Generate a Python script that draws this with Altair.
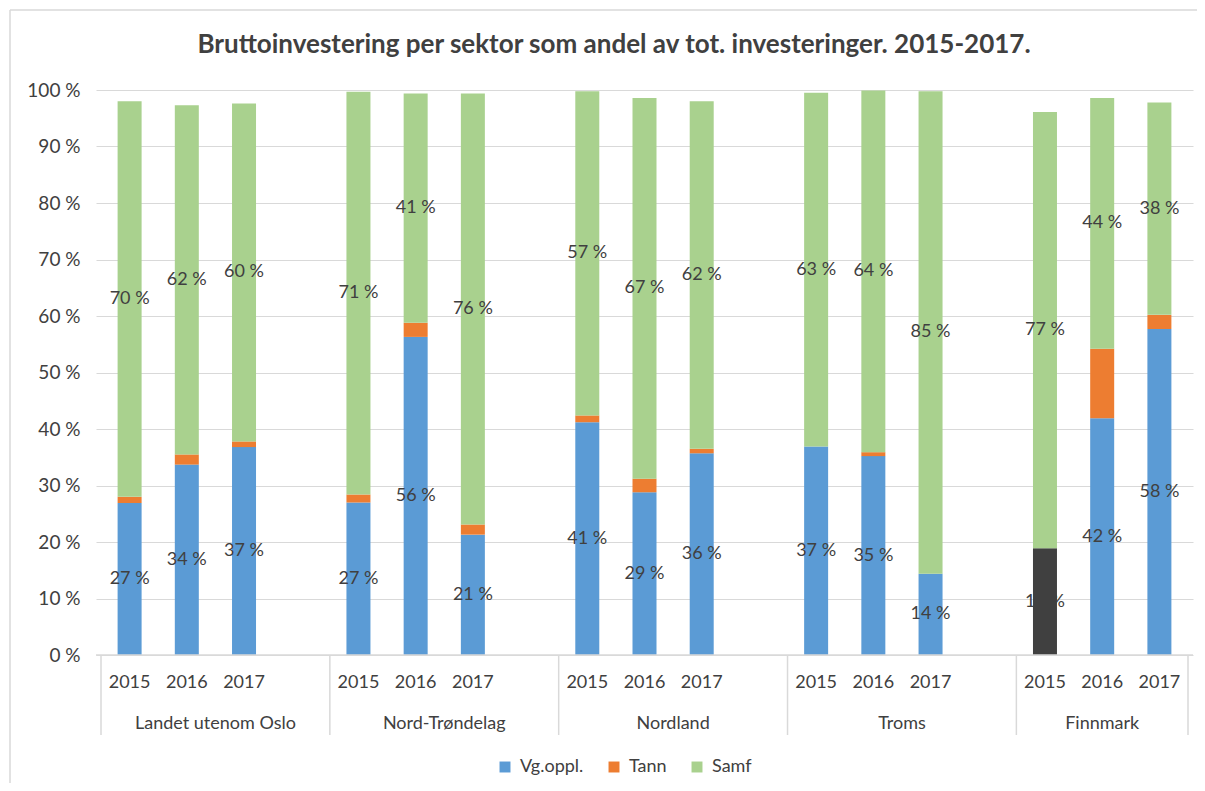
import altair as alt
import pandas as pd

regions = ["Landet utenom Oslo", "Nord-Trøndelag", "Nordland", "Troms", "Finnmark"]
years = ["2015", "2016", "2017"]
sectors = ["Vg.oppl.", "Tann", "Samf"]

# values in percent, order: region x year
vg_oppl = [26.9, 33.7, 36.8, 27.0, 56.3, 21.3, 41.2, 28.8, 35.7, 36.9, 35.2, 14.4, 18.9, 41.9, 57.7]
tann = [1.1, 1.8, 1.0, 1.4, 2.5, 1.8, 1.2, 2.4, 0.8, 0.0, 0.7, 0.0, 0.0, 12.3, 2.5]
samf = [70.0, 61.8, 59.8, 71.3, 40.6, 76.3, 57.4, 67.4, 61.5, 62.6, 64.0, 85.4, 77.2, 44.4, 37.6]

# category slots per region (Excel leaves an empty 4th category in all but the last group)
slots_per_region = [4, 4, 4, 4, 3]

TITLE = "Bruttoinvestering per sektor som andel av tot. investeringer. 2015-2017."
FONT = "Lato"
TXT = "#404040"
GRID = "#D9D9D9"
FS = 18

rows = []
starts = []
s = 0
for n in slots_per_region:
    starts.append(s)
    s += n
total_slots = s

for g, reg in enumerate(regions):
    for j, yr in enumerate(years):
        k = g * 3 + j
        for o, (sec, vals) in enumerate(zip(sectors, [vg_oppl, tann, samf])):
            rows.append({"region": reg, "year": yr, "sector": sec, "order": o,
                         "value": vals[k], "pos": starts[g] + j + 0.5})
df = pd.DataFrame(rows)

years_df = df[df["sector"] == "Vg.oppl."][["region", "year", "pos"]]
groups_df = pd.DataFrame({"region": regions,
                          "center": [st + n / 2 for st, n in zip(starts, slots_per_region)]})
sep_df = pd.DataFrame({"b": starts + [total_slots]})

W, H = 1097, 565
xscale = alt.Scale(domain=[0, total_slots], nice=False, zero=False)
one = pd.DataFrame({"f": [0]})

base = alt.Chart(df).transform_stack(
    stack="value", groupby=["region", "year"], as_=["y0", "y1"],
    sort=[alt.SortField("order", order="ascending")]
).transform_calculate(
    mid="(datum.y0 + datum.y1) / 2",
    label="format(datum.value, '.0f') + ' %'"
)

frame_top = alt.Chart(one).mark_rule(color=GRID, strokeWidth=1.5).encode(
    x=alt.value(-86), x2=alt.value(W + 200), y=alt.value(-80))
frame_left = alt.Chart(one).mark_rule(color=GRID, strokeWidth=1.5).encode(
    x=alt.value(-86), y=alt.value(-80), y2=alt.value(H + 300))

title = alt.Chart(one).mark_text(
    font=FONT, fontSize=26, fontWeight="bold", color=TXT
).encode(x=alt.value(518), y=alt.value(-45), text=alt.value(TITLE))

bars = base.mark_bar(size=24).encode(
    x=alt.X("pos:Q", scale=xscale, axis=None),
    y=alt.Y("y0:Q", scale=alt.Scale(domain=[0, 100], nice=False),
            axis=alt.Axis(values=list(range(0, 101, 10)), labelExpr="datum.value + ' %'",
                          title=None, domain=False, ticks=False, grid=True, gridColor=GRID,
                          labelFont=FONT, labelFontSize=19, labelColor=TXT, labelPadding=16)),
    y2="y1:Q",
    color=alt.condition(
        "datum.region == 'Finnmark' && datum.year == '2015' && datum.sector == 'Vg.oppl.'",
        alt.value("#404040"),
        alt.Color("sector:N",
                  scale=alt.Scale(domain=sectors, range=["#5B9BD5", "#ED7D31", "#A9D18E"]),
                  legend=alt.Legend(title=None, orient="none", direction="horizontal",
                                    legendX=400, legendY=668, symbolType="square",
                                    symbolSize=120, symbolStrokeWidth=0, labelFont=FONT,
                                    labelFontSize=FS, labelColor=TXT, columnPadding=21,
                                    labelOffset=6))
    ),
    order=alt.Order("order:Q")
)

labels = base.transform_filter("datum.sector != 'Tann'").mark_text(
    font=FONT, fontSize=FS, color=TXT
).encode(
    x=alt.X("pos:Q", scale=xscale),
    y=alt.Y("mid:Q"),
    text="label:N"
)

seps = alt.Chart(sep_df).mark_rule(color=GRID, strokeWidth=1.5).encode(
    x=alt.X("b:Q", scale=xscale), y=alt.value(H), y2=alt.value(H + 80)
)

zero_line = alt.Chart(pd.DataFrame({"z": [0]})).mark_rule(color=GRID, strokeWidth=1.5).encode(
    y=alt.Y("z:Q"), x=alt.value(0), x2=alt.value(W)
)

year_text = alt.Chart(years_df).mark_text(font=FONT, fontSize=FS, color=TXT).encode(
    x=alt.X("pos:Q", scale=xscale), y=alt.value(H + 28), text="year:N"
)

group_text = alt.Chart(groups_df).mark_text(font=FONT, fontSize=FS, color=TXT).encode(
    x=alt.X("center:Q", scale=xscale), y=alt.value(H + 69), text="region:N"
)

chart = alt.layer(frame_top, frame_left, title, bars, labels, seps, zero_line,
                  year_text, group_text).properties(
    width=W, height=H,
    padding={"left": 88, "top": 82, "right": 4, "bottom": 128},
    autosize=alt.AutoSizeParams(type="none")
).configure_view(stroke=None)

chart.save("out.html", embed_options={"renderer": "svg", "actions": False})
